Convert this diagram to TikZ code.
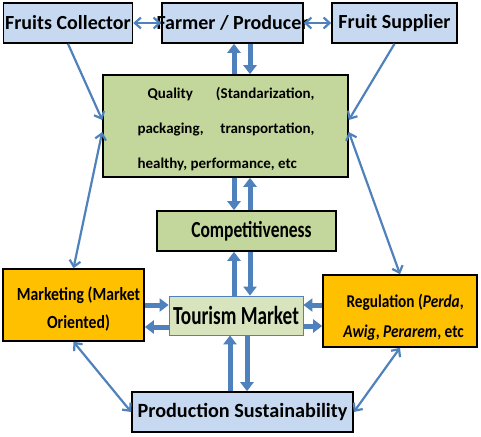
\documentclass[tikz,border=0pt]{standalone}
\usepackage{fontspec}
\setmainfont{Carlito}
\usetikzlibrary{arrows.meta}
\definecolor{hdrblue}{HTML}{C6D9F1}
\definecolor{qgreen}{HTML}{C3D69B}
\definecolor{tgreen}{HTML}{D7E4BD}
\definecolor{orng}{HTML}{FFC000}
\definecolor{arr}{HTML}{4F81BD}
\tikzset{
  box/.style={draw=black, line width=1.6pt, inner sep=0pt, font=\bfseries},
  txt/.style={inner sep=0pt, font=\bfseries},
  thin/.style={draw=arr, line width=2.2pt, {Straight Barb[length=6pt,width=11pt]}-{Straight Barb[length=6pt,width=11pt]}},
  thinone/.style={draw=arr, line width=2.2pt, -{Straight Barb[length=6pt,width=11pt]}},
  blk/.style={draw=arr, line width=5pt, -{Triangle[width=13pt,length=9pt]}},
}
\begin{document}
\begin{tikzpicture}[x=1pt,y=-1pt]
\useasboundingbox (0,0) rectangle (481,436);
% boxes
\node[box, fill=hdrblue, minimum width=129pt, minimum height=40pt] (fc) at (68,23) {\makebox[0pt]{\fontsize{20}{24}\selectfont Fruits Collector}};
\node[box, fill=hdrblue, minimum width=141pt, minimum height=40pt] (fp) at (232.5,23) {\makebox[0pt]{\fontsize{20}{24}\selectfont Farmer / Producer}};
\node[box, fill=hdrblue, minimum width=125pt, minimum height=40pt] (fs) at (394.5,23) {\makebox[0pt]{\fontsize{20}{24}\selectfont Fruit Supplier}};
\node[box, fill=qgreen, minimum width=245pt, minimum height=102pt] (q) at (225.5,126) {};
\node[txt] (qt) at (226,129.5) {\parbox{177pt}{\fontsize{15}{35}\selectfont\hspace*{10pt}Quality\hfill(Standarization,\\packaging,\hfill transportation,\\healthy, performance, etc\hspace*{9pt}}};
\node[box, fill=qgreen, minimum width=179pt, minimum height=40pt] (comp) at (246.5,231) {};
\node[txt] (compt) at (251.5,231) {\scalebox{0.76}[1]{\fontsize{23}{26}\selectfont Competitiveness}};
\node[box, fill=orng, minimum width=141pt, minimum height=72pt] (mkt) at (73.5,305) {};
\node[txt] (mktt) at (78.5,309) {\scalebox{0.85}[1]{\parbox{150pt}{\centering\fontsize{18.5}{28}\selectfont Marketing (Market\\Oriented)}}};
\node[box, fill=orng, minimum width=154pt, minimum height=72pt] (reg) at (400,311) {};
\node[txt] (regt) at (400,317) {\scalebox{0.85}[1]{\parbox{150pt}{\raggedleft\fontsize{18}{30}\selectfont Regulation (\textit{Perda},\\\textit{Awig}, \textit{Perarem}, etc}}};
\node[draw=arr, line width=0.8pt, fill=tgreen, inner sep=0pt, font=\bfseries, minimum width=134pt, minimum height=39pt] (tm) at (236,315.5) {\makebox[0pt]{\scalebox{0.74}[1]{\fontsize{26}{30}\selectfont Tourism Market}}};
\node[box, fill=hdrblue, minimum width=221pt, minimum height=40pt] (ps) at (242.5,412) {\makebox[0pt]{\fontsize{20.2}{24}\selectfont Production Sustainability}};
% thin connectors
\draw[thin] (fc.east) -- (fp.west);
\draw[thin] (fp.east) -- (fs.west);
\draw[thinone] (fc.south) -- (q.west |- 0,120);
\draw[thinone] (fs.south) -- (q.east |- 0,120);
\draw[thin] (q.west |- 0,132) -- (mkt.north);
\draw[thin] (q.east |- 0,132) -- (reg.north);
\draw[thin] (mkt.south) -- (ps.west);
\draw[thin] (reg.south) -- (ps.east);
% block arrows
\draw[blk] (q.north -| 234,0) -- (fp.south -| 234,0);
\draw[blk] (fp.south -| 250,0) -- (q.north -| 250,0);
\draw[blk] (q.south -| 234,0) -- (comp.north -| 234,0);
\draw[blk] (comp.north -| 250,0) -- (q.south -| 250,0);
\draw[blk] (tm.north -| 234,0) -- (comp.south -| 234,0);
\draw[blk] (comp.south -| 250,0) -- (tm.north -| 250,0);
\draw[blk] (ps.north -| 230,0) -- (tm.south -| 230,0);
\draw[blk] (tm.south -| 247,0) -- (ps.north -| 247,0);
\draw[blk] (mkt.east |- 0,305) -- (tm.west |- 0,305);
\draw[blk] (tm.west |- 0,327) -- (mkt.east |- 0,327);
\draw[blk] (reg.west |- 0,305) -- (tm.east |- 0,305);
\draw[blk] (tm.east |- 0,326) -- (reg.west |- 0,326);
\end{tikzpicture}
\end{document}
